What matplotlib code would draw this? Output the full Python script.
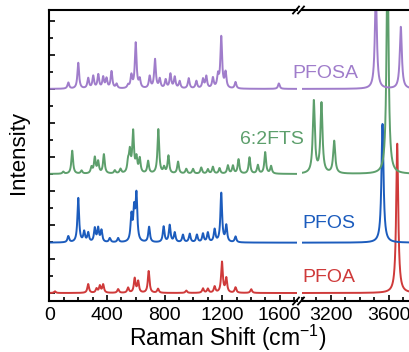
import numpy as np
import matplotlib
matplotlib.use("Agg")
import matplotlib.pyplot as plt
from matplotlib.lines import Line2D
from matplotlib.ticker import MultipleLocator, NullFormatter

plt.rcParams['font.family'] = ['Liberation Sans', 'DejaVu Sans']
plt.rcParams['mathtext.fontset'] = 'custom'
plt.rcParams['mathtext.rm'] = 'Liberation Sans'

names = ["PFOA", "PFOS", "6:2FTS", "PFOSA"]
colors = ["#cf3a3a", "#1c5cbd", "#5d9f6c", "#a07dcb"]
offsets = [0.0, 1.48, 3.5, 6.0]

# low-wavenumber peaks (cm-1) and relative heights
pfoa_pos = [39, 270, 328, 351, 374, 478, 547, 593, 617, 690, 755, 951, 1067, 1101, 1148, 1199, 1229, 1293, 1402]
pfoa_amp = [0.05, 0.26, 0.12, 0.2, 0.24, 0.11, 0.15, 0.42, 0.33, 0.64, 0.12, 0.07, 0.13, 0.12, 0.18, 0.9, 0.42, 0.16, 0.11]
pfos_pos = [132, 201, 242, 270, 316, 339, 362, 420, 478, 570, 589, 605, 693, 794, 836, 871, 928, 975, 1025, 1067, 1101, 1148, 1194, 1229, 1293]
pfos_amp = [0.18, 1.3, 0.3, 0.27, 0.4, 0.4, 0.34, 0.12, 0.12, 0.75, 0.88, 1.35, 0.45, 0.46, 0.5, 0.28, 0.22, 0.25, 0.22, 0.25, 0.28, 0.37, 1.44, 0.48, 0.17]
fts_pos = [97, 159, 224, 293, 316, 339, 379, 455, 494, 547, 559, 582, 605, 628, 686, 757, 797, 827, 894, 951, 998, 1055, 1101, 1136, 1182, 1240, 1275, 1314, 1390, 1448, 1499, 1540]
fts_amp = [0.06, 0.68, 0.09, 0.18, 0.46, 0.34, 0.56, 0.09, 0.13, 0.3, 0.6, 1.2, 0.42, 0.42, 0.36, 1.3, 0.17, 0.52, 0.35, 0.14, 0.14, 0.18, 0.13, 0.2, 0.16, 0.24, 0.23, 0.42, 0.48, 0.25, 0.63, 0.22]
pfosa_pos = [132, 201, 270, 305, 340, 374, 397, 432, 467, 547, 570, 600, 628, 697, 734, 767, 808, 841, 871, 905, 968, 1021, 1067, 1090, 1136, 1171, 1194, 1224, 1293, 1594]
pfosa_amp = [0.18, 0.76, 0.3, 0.36, 0.4, 0.32, 0.28, 0.5, 0.13, 0.09, 0.37, 1.33, 0.25, 0.35, 0.85, 0.27, 0.25, 0.42, 0.33, 0.21, 0.3, 0.22, 0.27, 0.35, 0.3, 0.36, 1.5, 0.45, 0.19, 0.16]

# high-wavenumber peaks
pfoa_hpos = [3660]
pfoa_hamp = [4.39]
pfos_hpos = [3558]
pfos_hamp = [3.49]
fts_hpos = [3082, 3135, 3223, 3593]
fts_hamp = [2.12, 2.05, 0.95, 6.5]
pfosa_hpos = [3512, 3685]
pfosa_hamp = [2.8, 1.82]

low = [(pfoa_pos, pfoa_amp), (pfos_pos, pfos_amp), (fts_pos, fts_amp), (pfosa_pos, pfosa_amp)]
high = [(pfoa_hpos, pfoa_hamp), (pfos_hpos, pfos_hamp), (fts_hpos, fts_hamp), (pfosa_hpos, pfosa_hamp)]


def lorentz(x, pos, amp, w):
    y = np.zeros_like(x)
    for p, a in zip(pos, amp):
        y += a * w ** 2 / ((x - p) ** 2 + w ** 2)
    return y


W, H = 410, 352
fig = plt.figure(figsize=(4.1, 3.52), dpi=100)
bot = 1 - 301 / H
top = 1 - 10 / H
ax1 = fig.add_axes([49.3 / W, bot, (297 - 49.3) / W, top - bot])
ax2 = fig.add_axes([302 / W, bot, (417.4 - 302) / W, top - bot])
ax2.patch.set_visible(False)

xl = np.linspace(0, 1720, 6000)
xh = np.linspace(3000, 3800, 4000)
for i in range(4):
    yl = offsets[i] + lorentz(xl, low[i][0], low[i][1], 7.0)
    yh = offsets[i] + lorentz(xh, high[i][0], high[i][1], 8.5)
    ax1.plot(xl, yl, color=colors[i], lw=1.4)
    ax2.plot(xh, yh, color=colors[i], lw=1.4)

ylim = (-0.235, 8.32)
for ax in (ax1, ax2):
    ax.set_ylim(*ylim)
    for s in ax.spines.values():
        s.set_linewidth(1.5)
    ax.tick_params(which='both', direction='in', width=1.2, labelsize=14, pad=4)
    ax.tick_params(which='major', length=4.5)
    ax.tick_params(which='minor', length=3)

ax1.set_xlim(0, 1720)
ax2.set_xlim(3000, 3800)
ax1.spines['right'].set_visible(False)
ax2.spines['left'].set_visible(False)
ax1.xaxis.set_major_locator(MultipleLocator(400))
ax1.xaxis.set_minor_locator(MultipleLocator(100))
ax2.xaxis.set_major_locator(MultipleLocator(400))
ax2.xaxis.set_minor_locator(MultipleLocator(100))
ax1.yaxis.set_major_locator(MultipleLocator(1))
ax1.yaxis.set_minor_locator(MultipleLocator(0.5))
ax1.yaxis.set_major_formatter(NullFormatter())
ax2.set_yticks([])
ax2.tick_params(axis='y', which='both', left=False, right=False)

# series labels (figure pixel positions of their left edges / centres)
label_px = [(302, 278), (302, 224), (240, 139), (292, 74)]
for i in range(4):
    fig.text(label_px[i][0] / W, 1 - label_px[i][1] / H, names[i], color=colors[i],
             fontsize=14, ha='left', va='center')

fig.text(228 / W, 1 - 338 / H, "Raman Shift (cm$^{\\mathregular{-1}}$)", ha='center', va='center', fontsize=16.5)
fig.text(19 / W, 1 - 152 / H, "Intensity", rotation=90, ha='center', va='center', fontsize=16)

# break marks
for yc in (10, 301):
    for xc in (296, 301):
        fig.add_artist(Line2D([(xc - 3) / W, (xc + 3) / W], [1 - (yc + 3.5) / H, 1 - (yc - 3.5) / H],
                              transform=fig.transFigure, color='black', lw=1.3))

fig.savefig("out.png", dpi=100)
